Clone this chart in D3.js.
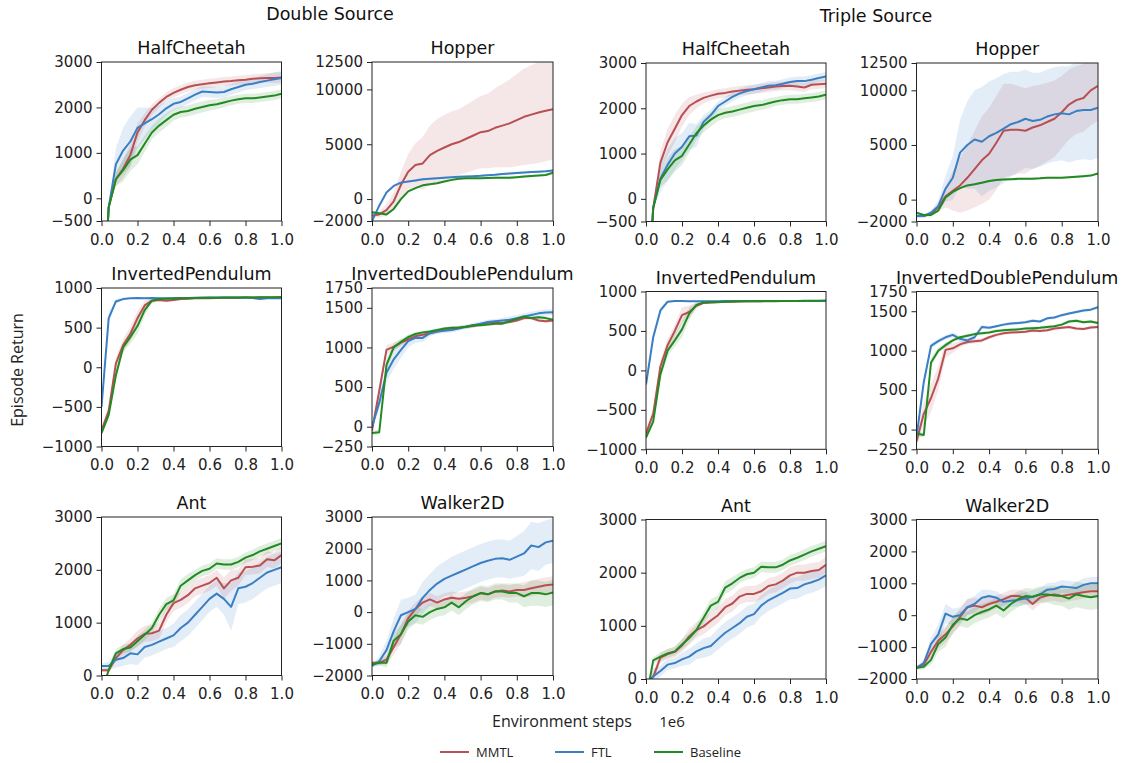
<!DOCTYPE html>
<html><head><meta charset="utf-8">
<script src="https://cdn.jsdelivr.net/npm/d3@7"></script>
<style>body{margin:0;background:#fff;overflow:hidden;} svg{display:block;}</style>
</head><body><svg id="chart" width="1125" height="763"></svg>
<script>
// ---------------- DATA ----------------
const xSteps = [0, 0.04, 0.08, 0.12, 0.16, 0.2, 0.24, 0.28, 0.32, 0.36, 0.4, 0.44, 0.48, 0.52, 0.56, 0.6, 0.64, 0.68, 0.72, 0.76, 0.8, 0.84, 0.88, 0.92, 0.96, 1.0];
const xTicks = [0, 0.2, 0.4, 0.6, 0.8, 1.0];
const seriesNames = ["MMTL", "FTL", "Baseline"];
const groupTitles = ["Double Source", "Triple Source"];

const ticksHalfCheetah = [-500, 0, 1000, 2000, 3000];
const ticksHopper = [-2000, 0, 5000, 10000, 12500];
const ticksInvPend = [-1000, -500, 0, 500, 1000];
const ticksInvDblPend = [-250, 0, 500, 1000, 1500, 1750];
const ticksAnt = [0, 1000, 2000, 3000];
const ticksWalker = [-2000, -1000, 0, 1000, 2000, 3000];

// Double source
const dblHalfCheetahMMTL = [-3000, -200, 420, 650, 950, 1450, 1720, 1950, 2100, 2230, 2320, 2390, 2450, 2490, 2510, 2530, 2550, 2570, 2580, 2600, 2610, 2630, 2640, 2650, 2650, 2660];
const dblHalfCheetahMMTLSd = [0, 0, 150, 200, 250, 200, 150, 120, 100, 100, 100, 100, 100, 100, 100, 100, 100, 100, 100, 100, 100, 100, 100, 100, 120, 120];
const dblHalfCheetahFTL = [-3000, -200, 750, 1050, 1250, 1550, 1650, 1740, 1850, 1980, 2080, 2120, 2200, 2280, 2350, 2340, 2330, 2340, 2400, 2450, 2500, 2520, 2560, 2590, 2620, 2650];
const dblHalfCheetahFTLSd = [0, 0, 350, 500, 550, 450, 350, 250, 200, 150, 130, 120, 120, 120, 120, 120, 120, 120, 120, 120, 120, 120, 130, 140, 150, 150];
const dblHalfCheetahBase = [-3000, -200, 420, 620, 850, 950, 1200, 1450, 1600, 1720, 1840, 1900, 1920, 1970, 2010, 2050, 2070, 2110, 2150, 2180, 2200, 2200, 2220, 2240, 2260, 2300];
const dblHalfCheetahBaseSd = [0, 0, 150, 250, 250, 200, 180, 150, 150, 150, 130, 120, 120, 120, 120, 120, 110, 110, 100, 100, 100, 100, 100, 100, 100, 100];

const dblHopperMMTL = [-1500, -1400, -1000, -200, 1300, 2500, 3100, 3250, 4000, 4400, 4700, 5000, 5200, 5500, 5800, 6100, 6200, 6500, 6700, 6900, 7200, 7500, 7700, 7900, 8050, 8200];
const dblHopperMMTLSd = [200, 300, 500, 800, 1200, 1600, 2000, 2400, 2700, 2900, 3000, 3000, 3000, 3100, 3200, 3300, 3400, 3600, 3800, 4000, 4200, 4400, 4500, 4600, 4600, 4600];
const dblHopperFTL = [-2000, -600, 600, 1200, 1500, 1600, 1700, 1800, 1850, 1900, 1950, 2000, 2030, 2050, 2080, 2120, 2180, 2220, 2280, 2330, 2380, 2420, 2460, 2500, 2540, 2600];
const dblHopperFTLSd = [100, 100, 100, 100, 100, 100, 100, 100, 100, 100, 100, 100, 100, 100, 100, 100, 100, 100, 100, 100, 100, 100, 100, 100, 100, 100];
const dblHopperBase = [-1200, -1300, -1400, -900, 0, 700, 1000, 1250, 1350, 1450, 1600, 1750, 1850, 1900, 1900, 1900, 1920, 1950, 1950, 1950, 2000, 2050, 2100, 2150, 2200, 2400];
const dblHopperBaseSd = [100, 100, 100, 100, 100, 100, 100, 100, 100, 100, 100, 100, 100, 100, 100, 100, 100, 100, 100, 100, 100, 100, 100, 100, 100, 100];

const dblInvPendMMTL = [-800, -550, 50, 280, 420, 620, 780, 840, 850, 840, 850, 860, 865, 870, 870, 870, 875, 875, 875, 875, 880, 880, 880, 880, 880, 880];
const dblInvPendMMTLSd = [50, 60, 70, 80, 90, 90, 60, 30, 20, 20, 15, 15, 10, 10, 10, 10, 10, 10, 10, 10, 10, 10, 10, 10, 10, 10];
const dblInvPendFTL = [-500, 620, 830, 860, 870, 875, 870, 875, 870, 870, 872, 875, 875, 878, 880, 880, 880, 880, 880, 880, 880, 875, 860, 870, 870, 870];
const dblInvPendFTLSd = [40, 60, 30, 15, 10, 10, 10, 10, 10, 10, 10, 10, 10, 10, 10, 10, 10, 10, 10, 10, 10, 10, 10, 10, 10, 10];
const dblInvPendBase = [-830, -600, -100, 250, 380, 520, 720, 840, 860, 865, 868, 870, 872, 875, 875, 878, 878, 880, 880, 880, 880, 880, 882, 883, 884, 885];
const dblInvPendBaseSd = [40, 50, 60, 60, 80, 100, 70, 30, 15, 10, 10, 10, 10, 10, 10, 10, 10, 10, 10, 10, 10, 10, 10, 10, 10, 10];

const dblInvDblPendMMTL = [-50, 450, 970, 1010, 1060, 1100, 1140, 1160, 1180, 1200, 1220, 1240, 1250, 1260, 1270, 1290, 1310, 1320, 1310, 1320, 1340, 1370, 1370, 1340, 1330, 1340];
const dblInvDblPendMMTLSd = [30, 60, 60, 50, 40, 30, 30, 30, 25, 25, 20, 20, 20, 20, 20, 20, 20, 20, 20, 20, 20, 20, 20, 20, 20, 20];
const dblInvDblPendFTL = [0, 300, 680, 850, 970, 1080, 1120, 1120, 1180, 1200, 1210, 1220, 1240, 1260, 1280, 1300, 1320, 1330, 1340, 1350, 1370, 1390, 1410, 1430, 1440, 1445];
const dblInvDblPendFTLSd = [30, 80, 120, 120, 100, 80, 60, 50, 40, 30, 30, 30, 30, 30, 30, 30, 30, 30, 30, 40, 40, 40, 40, 40, 40, 40];
const dblInvDblPendBase = [-80, -70, 780, 1000, 1070, 1130, 1170, 1190, 1200, 1220, 1240, 1250, 1250, 1260, 1280, 1280, 1290, 1300, 1300, 1330, 1360, 1390, 1370, 1380, 1370, 1350];
const dblInvDblPendBaseSd = [30, 30, 80, 50, 40, 30, 25, 20, 20, 20, 20, 20, 20, 20, 20, 20, 20, 20, 20, 20, 20, 20, 20, 20, 20, 20];

const dblAntMMTL = [100, 100, 330, 480, 580, 700, 790, 800, 850, 1150, 1370, 1430, 1520, 1650, 1700, 1750, 1850, 1650, 1800, 1850, 2050, 2060, 2080, 2200, 2180, 2280];
const dblAntMMTLSd = [30, 50, 80, 100, 120, 150, 150, 150, 150, 150, 150, 150, 150, 150, 150, 150, 150, 200, 200, 150, 150, 150, 150, 150, 150, 150];
const dblAntFTL = [180, 180, 300, 330, 420, 400, 540, 580, 640, 700, 760, 900, 1000, 1150, 1300, 1450, 1550, 1450, 1300, 1650, 1680, 1750, 1850, 1950, 2000, 2050];
const dblAntFTLSd = [50, 80, 150, 150, 200, 200, 200, 200, 200, 200, 220, 250, 250, 250, 250, 250, 250, 300, 450, 300, 300, 300, 300, 300, 300, 300];
const dblAntBase = [-300, 100, 420, 500, 530, 650, 770, 900, 1150, 1350, 1420, 1700, 1800, 1900, 1980, 2020, 2120, 2100, 2100, 2150, 2230, 2280, 2350, 2400, 2450, 2500];
const dblAntBaseSd = [50, 60, 80, 80, 80, 100, 100, 100, 120, 120, 120, 120, 120, 100, 100, 100, 100, 100, 100, 100, 100, 100, 100, 100, 100, 100];

const dblWalkerMMTL = [-1600, -1600, -1500, -1100, -700, -200, 100, 300, 400, 300, 400, 450, 420, 450, 500, 600, 560, 650, 680, 650, 700, 700, 750, 800, 850, 870];
const dblWalkerMMTLSd = [50, 80, 150, 250, 300, 250, 200, 200, 200, 200, 200, 200, 200, 200, 200, 200, 200, 200, 200, 200, 200, 250, 250, 250, 250, 250];
const dblWalkerFTL = [-1700, -1550, -1200, -600, -100, 0, 100, 450, 700, 900, 1050, 1150, 1250, 1350, 1450, 1550, 1620, 1680, 1700, 1650, 1750, 1850, 2100, 2050, 2200, 2250];
const dblWalkerFTLSd = [50, 150, 300, 400, 500, 450, 450, 500, 500, 550, 550, 600, 600, 600, 600, 600, 600, 600, 600, 600, 650, 700, 750, 750, 700, 700];
const dblWalkerBase = [-1650, -1600, -1600, -900, -700, -300, -100, -150, 0, 100, 150, 300, 150, 350, 500, 600, 560, 650, 650, 600, 600, 500, 600, 600, 560, 620];
const dblWalkerBaseSd = [50, 80, 150, 250, 300, 250, 250, 250, 250, 250, 250, 250, 250, 250, 250, 250, 250, 250, 250, 300, 300, 350, 400, 400, 400, 400];

// Triple source
const triHalfCheetahMMTL = [-3000, -200, 800, 1250, 1550, 1850, 2050, 2150, 2230, 2280, 2320, 2340, 2370, 2390, 2410, 2420, 2440, 2460, 2480, 2490, 2500, 2480, 2460, 2520, 2530, 2540];
const triHalfCheetahMMTLSd = [0, 0, 250, 300, 300, 250, 200, 150, 120, 100, 100, 100, 100, 100, 100, 100, 100, 100, 100, 100, 100, 100, 100, 100, 100, 100];
const triHalfCheetahFTL = [-3000, -200, 450, 750, 1000, 1150, 1380, 1400, 1700, 1850, 2050, 2150, 2250, 2330, 2380, 2420, 2460, 2500, 2510, 2540, 2580, 2600, 2600, 2630, 2670, 2700];
const triHalfCheetahFTLSd = [0, 0, 300, 350, 350, 300, 300, 250, 150, 120, 100, 100, 100, 100, 100, 100, 100, 100, 100, 100, 100, 100, 100, 100, 100, 100];
const triHalfCheetahBase = [-3000, -200, 420, 650, 850, 950, 1200, 1450, 1620, 1750, 1850, 1900, 1930, 1970, 2010, 2050, 2070, 2110, 2150, 2180, 2200, 2200, 2220, 2240, 2260, 2300];
const triHalfCheetahBaseSd = [0, 0, 150, 250, 250, 200, 180, 150, 150, 150, 130, 120, 120, 120, 120, 120, 110, 110, 100, 100, 100, 100, 100, 100, 100, 100];

const triHopperMMTL = [-1500, -1500, -1300, -700, 300, 800, 1300, 2000, 2800, 3600, 4200, 5200, 6300, 6400, 6400, 6300, 6600, 6800, 7100, 7400, 8000, 8700, 9100, 9300, 10000, 10400];
const triHopperMMTLSd = [150, 150, 200, 400, 1000, 1800, 2500, 3000, 3500, 4000, 4200, 4300, 4300, 4200, 4000, 3900, 3800, 3700, 3600, 3500, 3300, 3200, 3100, 3100, 3200, 3200];
const triHopperFTL = [-1500, -1500, -1200, -600, 1000, 2000, 4300, 5000, 5500, 5300, 5800, 6100, 6500, 6900, 7100, 7400, 7200, 7300, 7600, 7800, 7900, 7800, 8100, 8200, 8200, 8400];
const triHopperFTLSd = [150, 150, 200, 500, 1200, 2000, 3000, 4000, 4500, 5000, 5000, 5000, 5000, 4800, 4600, 4500, 4400, 4300, 4300, 4300, 4300, 4400, 4500, 4500, 4600, 4600];
const triHopperBase = [-1200, -1400, -1400, -1000, 200, 700, 1050, 1300, 1400, 1550, 1700, 1800, 1850, 1870, 1900, 1900, 1920, 1950, 2000, 2000, 2000, 2050, 2100, 2150, 2200, 2400];
const triHopperBaseSd = [100, 100, 100, 100, 100, 100, 100, 100, 100, 100, 100, 100, 100, 100, 100, 100, 100, 100, 100, 100, 100, 100, 100, 100, 100, 100];

const triInvPendMMTL = [-800, -550, 50, 320, 500, 700, 740, 820, 855, 860, 865, 870, 870, 872, 875, 875, 875, 875, 878, 880, 880, 880, 880, 880, 880, 880];
const triInvPendMMTLSd = [50, 60, 80, 80, 80, 100, 80, 40, 20, 10, 10, 10, 10, 10, 10, 10, 10, 10, 10, 10, 10, 10, 10, 10, 10, 10];
const triInvPendFTL = [-180, 420, 760, 870, 880, 880, 878, 876, 876, 878, 878, 880, 880, 880, 880, 880, 880, 880, 880, 880, 880, 880, 880, 880, 880, 880];
const triInvPendFTLSd = [40, 60, 40, 15, 10, 10, 10, 10, 10, 10, 10, 10, 10, 10, 10, 10, 10, 10, 10, 10, 10, 10, 10, 10, 10, 10];
const triInvPendBase = [-850, -650, -50, 250, 380, 520, 720, 830, 860, 865, 868, 870, 872, 875, 875, 878, 878, 880, 880, 880, 880, 880, 882, 883, 884, 885];
const triInvPendBaseSd = [30, 40, 60, 70, 80, 100, 80, 30, 15, 10, 10, 10, 10, 10, 10, 10, 10, 10, 10, 10, 10, 10, 10, 10, 10, 10];

const triInvDblPendMMTL = [-150, 200, 400, 650, 1010, 1030, 1080, 1110, 1120, 1130, 1170, 1200, 1220, 1230, 1235, 1240, 1255, 1250, 1260, 1280, 1290, 1300, 1280, 1275, 1295, 1300];
const triInvDblPendMMTLSd = [80, 150, 180, 150, 100, 60, 40, 30, 30, 25, 25, 25, 20, 20, 20, 20, 20, 20, 20, 20, 20, 20, 20, 20, 20, 20];
const triInvDblPendFTL = [-100, 600, 1060, 1120, 1170, 1200, 1150, 1130, 1170, 1300, 1290, 1310, 1330, 1345, 1350, 1360, 1380, 1370, 1410, 1420, 1450, 1470, 1490, 1510, 1520, 1550];
const triInvDblPendFTLSd = [40, 60, 40, 30, 30, 30, 40, 50, 30, 25, 20, 20, 20, 20, 20, 20, 20, 20, 20, 20, 20, 20, 20, 20, 20, 20];
const triInvDblPendBase = [-50, -70, 850, 1000, 1070, 1130, 1170, 1190, 1210, 1220, 1230, 1250, 1260, 1265, 1270, 1280, 1285, 1290, 1300, 1310, 1330, 1370, 1380, 1360, 1370, 1350];
const triInvDblPendBaseSd = [30, 30, 60, 40, 30, 25, 20, 20, 20, 20, 20, 20, 20, 20, 20, 20, 20, 20, 20, 20, 20, 20, 20, 20, 20, 20];

const triAntMMTL = [-100, 40, 400, 470, 510, 630, 800, 920, 990, 1100, 1200, 1350, 1420, 1550, 1600, 1600, 1650, 1750, 1780, 1850, 1950, 2000, 2000, 2030, 2050, 2150];
const triAntMMTLSd = [50, 80, 100, 100, 100, 120, 150, 150, 150, 150, 150, 150, 150, 150, 150, 150, 150, 150, 150, 150, 150, 150, 150, 150, 150, 150];
const triAntFTL = [-100, 50, 150, 270, 300, 370, 420, 520, 580, 620, 750, 870, 960, 1050, 1170, 1220, 1380, 1480, 1550, 1620, 1700, 1710, 1780, 1820, 1870, 1950];
const triAntFTLSd = [50, 150, 100, 100, 100, 120, 150, 150, 180, 180, 200, 200, 200, 200, 200, 200, 200, 200, 200, 200, 200, 200, 200, 200, 200, 200];
const triAntBase = [-400, 350, 420, 480, 520, 650, 770, 920, 1150, 1380, 1450, 1720, 1800, 1900, 1970, 2000, 2110, 2100, 2100, 2150, 2230, 2280, 2340, 2400, 2450, 2500];
const triAntBaseSd = [50, 60, 80, 80, 80, 100, 100, 100, 120, 120, 120, 120, 120, 100, 100, 100, 100, 100, 100, 100, 100, 100, 100, 100, 100, 100];

const triWalkerMMTL = [-1650, -1550, -1150, -800, -600, -350, -50, 250, 300, 250, 350, 420, 500, 600, 600, 550, 350, 550, 620, 650, 600, 640, 680, 720, 750, 750];
const triWalkerMMTLSd = [50, 100, 200, 250, 250, 250, 250, 250, 250, 250, 250, 200, 200, 200, 200, 200, 200, 200, 200, 200, 200, 200, 200, 200, 200, 200];
const triWalkerFTL = [-1650, -1500, -900, -600, 50, -50, 0, 250, 350, 550, 600, 550, 420, 450, 480, 520, 580, 650, 800, 820, 900, 880, 850, 950, 1000, 1000];
const triWalkerFTLSd = [50, 100, 200, 300, 300, 250, 250, 250, 250, 250, 200, 200, 200, 200, 200, 200, 200, 200, 200, 200, 200, 200, 200, 200, 200, 200];
const triWalkerBase = [-1650, -1620, -1400, -900, -700, -300, -100, -150, 0, 100, 180, 300, 150, 350, 500, 600, 580, 650, 650, 620, 600, 520, 650, 600, 560, 600];
const triWalkerBaseSd = [50, 80, 150, 250, 300, 250, 250, 250, 250, 250, 250, 250, 250, 250, 250, 250, 250, 250, 250, 300, 300, 350, 400, 400, 400, 400];

// ---------------- STYLE / LAYOUT ----------------
const seriesColors = ["#b84f52", "#3a7ec3", "#228a22"];
const colBounds = [[101.5, 281.5], [372, 553], [646, 826], [916.5, 1098]];
const rowBoundsLeft = [[62, 221], [288, 446.5], [517, 675.5]];
const rowBoundsRight = [[63, 221.5], [291.5, 449.3], [519.5, 679]];

const panels = [
  {title: "HalfCheetah", col: 0, row: 0, ticks: ticksHalfCheetah, means: [dblHalfCheetahMMTL, dblHalfCheetahFTL, dblHalfCheetahBase], sds: [dblHalfCheetahMMTLSd, dblHalfCheetahFTLSd, dblHalfCheetahBaseSd]},
  {title: "Hopper", col: 1, row: 0, ticks: ticksHopper, means: [dblHopperMMTL, dblHopperFTL, dblHopperBase], sds: [dblHopperMMTLSd, dblHopperFTLSd, dblHopperBaseSd]},
  {title: "HalfCheetah", col: 2, row: 0, ticks: ticksHalfCheetah, means: [triHalfCheetahMMTL, triHalfCheetahFTL, triHalfCheetahBase], sds: [triHalfCheetahMMTLSd, triHalfCheetahFTLSd, triHalfCheetahBaseSd]},
  {title: "Hopper", col: 3, row: 0, ticks: ticksHopper, means: [triHopperMMTL, triHopperFTL, triHopperBase], sds: [triHopperMMTLSd, triHopperFTLSd, triHopperBaseSd]},
  {title: "InvertedPendulum", col: 0, row: 1, ticks: ticksInvPend, means: [dblInvPendMMTL, dblInvPendFTL, dblInvPendBase], sds: [dblInvPendMMTLSd, dblInvPendFTLSd, dblInvPendBaseSd]},
  {title: "InvertedDoublePendulum", col: 1, row: 1, ticks: ticksInvDblPend, means: [dblInvDblPendMMTL, dblInvDblPendFTL, dblInvDblPendBase], sds: [dblInvDblPendMMTLSd, dblInvDblPendFTLSd, dblInvDblPendBaseSd]},
  {title: "InvertedPendulum", col: 2, row: 1, ticks: ticksInvPend, means: [triInvPendMMTL, triInvPendFTL, triInvPendBase], sds: [triInvPendMMTLSd, triInvPendFTLSd, triInvPendBaseSd]},
  {title: "InvertedDoublePendulum", col: 3, row: 1, ticks: ticksInvDblPend, means: [triInvDblPendMMTL, triInvDblPendFTL, triInvDblPendBase], sds: [triInvDblPendMMTLSd, triInvDblPendFTLSd, triInvDblPendBaseSd]},
  {title: "Ant", col: 0, row: 2, ticks: ticksAnt, means: [dblAntMMTL, dblAntFTL, dblAntBase], sds: [dblAntMMTLSd, dblAntFTLSd, dblAntBaseSd]},
  {title: "Walker2D", col: 1, row: 2, ticks: ticksWalker, means: [dblWalkerMMTL, dblWalkerFTL, dblWalkerBase], sds: [dblWalkerMMTLSd, dblWalkerFTLSd, dblWalkerBaseSd]},
  {title: "Ant", col: 2, row: 2, ticks: ticksAnt, means: [triAntMMTL, triAntFTL, triAntBase], sds: [triAntMMTLSd, triAntFTLSd, triAntBaseSd]},
  {title: "Walker2D", col: 3, row: 2, ticks: ticksWalker, means: [triWalkerMMTL, triWalkerFTL, triWalkerBase], sds: [triWalkerMMTLSd, triWalkerFTLSd, triWalkerBaseSd]}
];

// ---------------- DRAW ----------------
const svg = d3.select("#chart");
const tickFont = "'DejaVu Sans', sans-serif";
const annFont = "'Open Sans', 'DejaVu Sans', sans-serif";

panels.forEach((p, i) => {
  const [x0, x1] = colBounds[p.col];
  const [y0, y1] = (p.col < 2 ? rowBoundsLeft : rowBoundsRight)[p.row];
  const w = x1 - x0, h = y1 - y0;
  const x = d3.scaleLinear().domain([0, 1]).range([0, w]);
  const y = d3.scaleLinear().domain(d3.extent(p.ticks)).range([h, 0]);
  const g = svg.append("g").attr("transform", `translate(${x0},${y0})`);

  g.append("clipPath").attr("id", "clip" + i)
    .append("rect").attr("width", w).attr("height", h);
  const plot = g.append("g").attr("clip-path", `url(#clip${i})`);

  p.means.forEach((m, s) => {
    const rows = xSteps.map((xv, k) => ({x: xv, m: m[k], sd: p.sds[s][k]}));
    const area = d3.area().x(d => x(d.x)).y0(d => y(d.m - d.sd)).y1(d => y(d.m + d.sd));
    plot.append("path").datum(rows).attr("d", area)
      .attr("fill", seriesColors[s]).attr("fill-opacity", 0.14).attr("stroke", "none");
  });
  p.means.forEach((m, s) => {
    const rows = xSteps.map((xv, k) => ({x: xv, m: m[k]}));
    const line = d3.line().x(d => x(d.x)).y(d => y(d.m));
    plot.append("path").datum(rows).attr("d", line)
      .attr("fill", "none").attr("stroke", seriesColors[s]).attr("stroke-width", 2)
      .attr("stroke-linejoin", "round");
  });

  const xa = g.append("g").attr("transform", `translate(0,${h})`)
    .call(d3.axisBottom(x).tickValues(xTicks).tickFormat(d3.format(".1f")).tickSize(5).tickSizeOuter(0));
  const ya = g.append("g")
    .call(d3.axisLeft(y).tickValues(p.ticks).tickFormat(d3.format("d")).tickSize(5).tickSizeOuter(0));
  [xa, ya].forEach(a => {
    a.select(".domain").remove();
    a.selectAll("line").attr("stroke", "#222");
    a.selectAll("text").attr("font-family", tickFont).attr("font-size", "15px").attr("fill", "#222");
  });
  xa.selectAll("text").attr("dy", "1.05em");
  ya.selectAll("text").attr("x", -9);

  g.append("rect").attr("width", w).attr("height", h)
    .attr("fill", "none").attr("stroke", "#222").attr("stroke-width", 1);

  g.append("text").attr("x", w / 2).attr("y", -8).attr("text-anchor", "middle")
    .attr("font-family", tickFont).attr("font-size", "17.5px").attr("fill", "#111").text(p.title);
});

// group titles
svg.append("text").attr("x", 330).attr("y", 20).attr("text-anchor", "middle")
  .attr("font-family", tickFont).attr("font-size", "17.5px").attr("fill", "#111").text(groupTitles[0]);
svg.append("text").attr("x", 876).attr("y", 22).attr("text-anchor", "middle")
  .attr("font-family", tickFont).attr("font-size", "17.5px").attr("fill", "#111").text(groupTitles[1]);

// axis labels
svg.append("text").attr("transform", "translate(23,370) rotate(-90)").attr("text-anchor", "middle")
  .attr("font-family", annFont).attr("font-size", "16px").attr("fill", "#222").text("Episode Return");
svg.append("text").attr("x", 562).attr("y", 727).attr("text-anchor", "middle")
  .attr("font-family", annFont).attr("font-size", "16px").attr("fill", "#222").text("Environment steps");
svg.append("text").attr("x", 672).attr("y", 727).attr("text-anchor", "middle")
  .attr("font-family", annFont).attr("font-size", "15px").attr("fill", "#222").text("1e6");

// legend
const legendX = [440, 555, 654];
seriesNames.forEach((n, s) => {
  svg.append("line").attr("x1", legendX[s]).attr("x2", legendX[s] + 29).attr("y1", 752).attr("y2", 752)
    .attr("stroke", seriesColors[s]).attr("stroke-width", 2);
  svg.append("text").attr("x", legendX[s] + 36).attr("y", 757)
    .attr("font-family", annFont).attr("font-size", "13px").attr("fill", "#222").text(n);
});
</script></body></html>
